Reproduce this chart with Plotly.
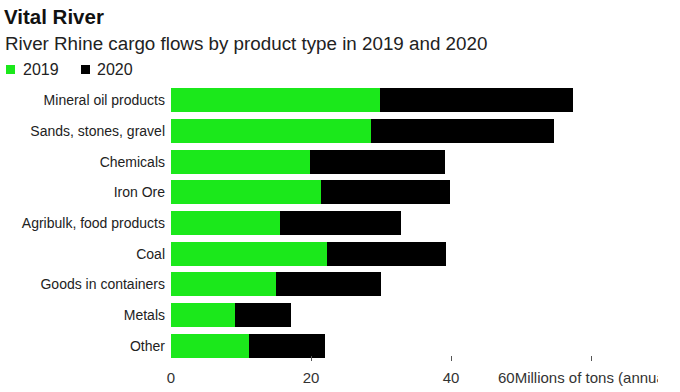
import plotly.graph_objects as go

categories = ["Mineral oil products", "Sands, stones, gravel", "Chemicals", "Iron Ore",
              "Agribulk, food products", "Coal", "Goods in containers", "Metals", "Other"]
values_2019 = [29.9, 28.6, 19.9, 21.4, 15.6, 22.3, 15.0, 9.1, 11.1]
values_2020 = [27.5, 26.1, 19.3, 18.5, 17.3, 17.0, 15.0, 8.0, 10.9]
tick_vals = [0, 20, 40, 60]
tick_text = ["0", "20", "40", ""]

GREEN = "#1be81b"
FONT = "Liberation Sans, Arial, sans-serif"
L, T, PW, PH = 171, 85, 490, 276


def px(x):
    return (x - L) / PW


def py(y):
    return 1 - (y - T) / PH


fig = go.Figure()
fig.add_trace(go.Bar(y=categories, x=values_2019, orientation="h", name="2019",
                     marker=dict(color=GREEN, line=dict(width=0))))
fig.add_trace(go.Bar(y=categories, x=values_2020, orientation="h", name="2020",
                     marker=dict(color="#000000", line=dict(width=0))))

fig.update_layout(
    width=680, height=392,
    margin=dict(l=L, r=680 - L - PW, t=T, b=392 - T - PH, autoexpand=False),
    barmode="stack", bargap=0.22,
    plot_bgcolor="white", paper_bgcolor="white",
    showlegend=False,
    font=dict(family=FONT, color="#333333", size=14),
    xaxis=dict(range=[0, 70], tickvals=tick_vals, ticktext=tick_text,
               showgrid=False, zeroline=False, showline=False,
               ticks="inside", ticklen=5, tickwidth=1, tickcolor="#555555",
               ticklabelstandoff=6,
               tickfont=dict(size=15, color="#333333")),
    yaxis=dict(autorange="reversed", showgrid=False, zeroline=False, showline=False,
               ticks="", ticklabelstandoff=5, tickfont=dict(size=14, color="#222222")),
)

fig.add_annotation(text="<b>Vital River</b>", xref="paper", yref="paper",
                   x=px(2), y=py(16.5), xanchor="left", yanchor="middle",
                   showarrow=False, font=dict(size=20.5, color="#111111", family=FONT))
fig.add_annotation(text="River Rhine cargo flows by product type in 2019 and 2020",
                   xref="paper", yref="paper",
                   x=px(3), y=py(43.5), xanchor="left", yanchor="middle",
                   showarrow=False, font=dict(size=18.8, color="#222222", family=FONT))
# legend
for sx, tx, col, lab in [(6, 21, GREEN, "2019"), (81, 95, "#000000", "2020")]:
    fig.add_shape(type="rect", xref="paper", yref="paper",
                  x0=px(sx), x1=px(sx + 9), y0=py(74), y1=py(65),
                  fillcolor=col, line=dict(width=0))
    fig.add_annotation(text=lab, xref="paper", yref="paper",
                       x=px(tx), y=py(69.5),
                       xanchor="left", yanchor="middle", showarrow=False,
                       font=dict(size=16, color="#222222", family=FONT))
# last tick label merged with axis title, clipped at plot edge as in the original
fig.add_annotation(text="60Millions of tons (annual)", xref="x", yref="paper",
                   x=(496 - L) / 7, y=py(377), xanchor="left", yanchor="middle",
                   width=160, align="left", showarrow=False,
                   font=dict(size=15, color="#333333", family=FONT))

fig.write_html("out.html", config={"displayModeBar": False},
               post_script="document.body.style.margin='0';")
